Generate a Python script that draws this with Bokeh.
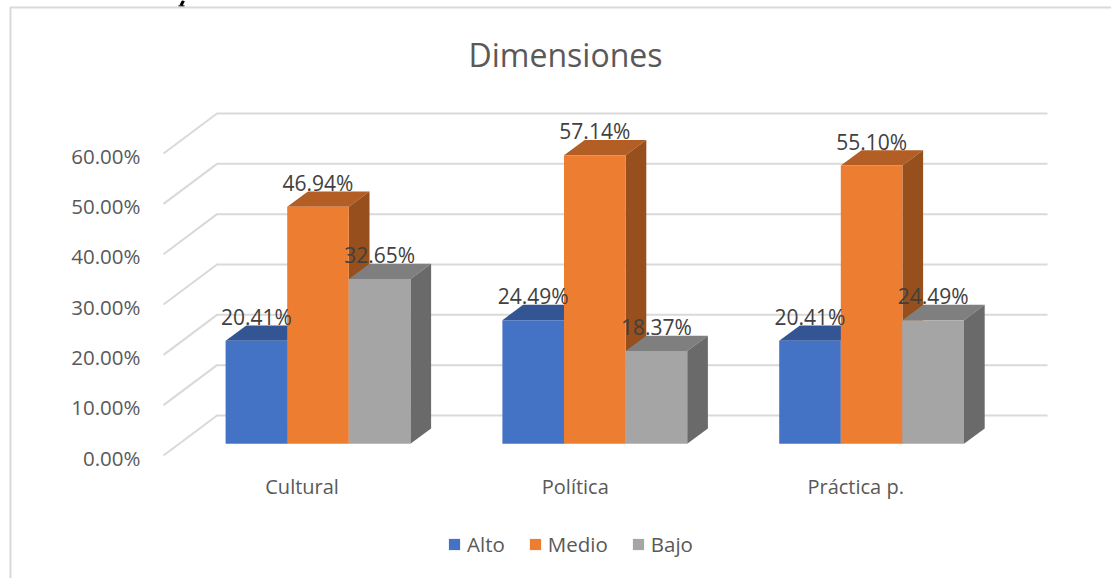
from bokeh.embed import file_html
from bokeh.resources import INLINE
from bokeh.plotting import figure
from bokeh.models import ColumnDataSource, FixedTicker, Legend, LegendItem, Range1d
from bokeh.core.properties import value

title = "Dimensiones"
categories = ["Cultural", "Política", "Práctica p."]
category_label_shift = [-0.06, -0.073, -0.06]
series_names = ["Alto", "Medio", "Bajo"]
alto = [20.41, 24.49, 20.41]
medio = [46.94, 57.14, 55.10]
bajo = [32.65, 18.37, 24.49]
y_ticks = [0, 10, 20, 30, 40, 50, 60]

front_colors = ["#4472C4", "#ED7D31", "#A5A5A5"]
top_colors = ["#335593", "#B25E25", "#7F7F7F"]
side_colors = ["#2C4A7C", "#964F1D", "#6A6A6A"]
FONT = "Open Sans"

W, H = 1111, 578
PX_X, PX_Y = 276.8, 5.033
def X(px): return (px - 318.2) / PX_X
def Y(px): return (455 - px) / PX_Y

BAR_W = 61.6 / PX_X
BAR_SHIFT = -0.7 / PX_X
BASE = 2.32
BAR_SCALE = 5.05 / PX_Y
DX, DY = 20.7 / PX_X, 15.3 / PX_Y
WX, WY = 53.5 / PX_X, 7.95
GRID = "#D9D9D9"

p = figure(width=W, height=H, output_backend="svg", toolbar_location=None,
           x_range=Range1d(X(0), X(W)), y_range=Range1d(Y(H), Y(0)),
           min_border=0, outline_line_color=None,
           background_fill_color="white", border_fill_color="white")
p.grid.visible = False

ya = p.yaxis[0]
ya.fixed_location = X(143)
y_tick_pos = [t - 0.4 for t in y_ticks]
ya.ticker = FixedTicker(ticks=y_tick_pos)
ya.major_label_overrides = {q: "%.2f%%" % t for q, t in zip(y_tick_pos, y_ticks)}
ya.axis_line_color = None
ya.major_tick_line_color = None
ya.minor_tick_line_color = None
ya.major_tick_out = 0
ya.major_tick_in = 0
ya.major_label_text_font = FONT
ya.major_label_text_font_size = "20.5px"
ya.major_label_text_color = "#595959"
ya.major_label_standoff = 3

xa = p.xaxis[0]
xa.fixed_location = Y(470)
tick_pos = [i + d for i, d in enumerate(category_label_shift)]
xa.ticker = FixedTicker(ticks=tick_pos)
xa.major_label_overrides = {t: c for t, c in zip(tick_pos, categories)}
xa.axis_line_color = None
xa.major_tick_line_color = None
xa.minor_tick_line_color = None
xa.major_tick_out = 0
xa.major_tick_in = 0
xa.major_label_text_font = FONT
xa.major_label_text_font_size = "20px"
xa.major_label_text_color = "#595959"
xa.major_label_standoff = 2

# outer frame of the pasted picture, and the cropped ink stroke above it
p.line([X(10), X(10), X(W)], [Y(H), Y(7), Y(7)], line_color=GRID, line_width=2)
p.line([X(183), X(180.5)], [Y(0), Y(5)], line_color="#000000", line_width=3)
p.line([X(178), X(184)], [Y(5.3), Y(5.3)], line_color="#000000", line_width=1)

p.text([X(565)], [Y(54)], text=[title], text_font=value(FONT), text_font_size="32px",
       text_color="#595959", text_align="center", text_baseline="middle")

x0 = X(163)
for t in y_ticks:
    p.line([x0, x0 + WX, X(1047)], [t, t + WY, t + WY], line_color=GRID, line_width=2)

legend_items = []
for s, vals in enumerate([alto, medio, bajo]):
    xl = [i + (s - 1.5) * BAR_W + BAR_SHIFT for i in range(len(vals))]
    xr = [a + BAR_W for a in xl]
    tops = [BASE + v * BAR_SCALE for v in vals]
    bots = [BASE] * len(vals)
    p.patches([[a, a + DX, c + DX, c] for a, c in zip(xl, xr)],
              [[t, t + DY, t + DY, t] for t in tops],
              fill_color=top_colors[s], line_color=None)
    p.patches([[c, c + DX, c + DX, c] for c in xr],
              [[BASE, BASE + DY, t + DY, t] for t in tops],
              fill_color=side_colors[s], line_color=None)
    r = p.quad(left=xl, right=xr, bottom=bots, top=tops,
               fill_color=front_colors[s], line_color=None)
    legend_items.append(LegendItem(label=series_names[s], renderers=[r]))

for s, vals in enumerate([alto, medio, bajo]):
    src = ColumnDataSource(dict(
        x=[i + (s - 1) * BAR_W + BAR_SHIFT for i in range(len(vals))],
        y=[BASE + v * BAR_SCALE for v in vals],
        t=["%.2f%%" % v for v in vals]))
    p.text("x", "y", text="t", source=src, text_align="center", text_baseline="middle",
           y_offset=-24, text_font=value(FONT), text_font_size="21px", text_color="#404040")

legend = Legend(items=legend_items, orientation="horizontal", location=(447, 20),
                background_fill_alpha=0, border_line_color=None, margin=0, padding=0,
                glyph_width=14, glyph_height=14, label_standoff=6, spacing=23,
                label_text_font=FONT, label_text_font_size="20.5px", label_text_color="#595959")
p.add_layout(legend, "center")

open("out.html", "w").write(file_html(p, INLINE))
